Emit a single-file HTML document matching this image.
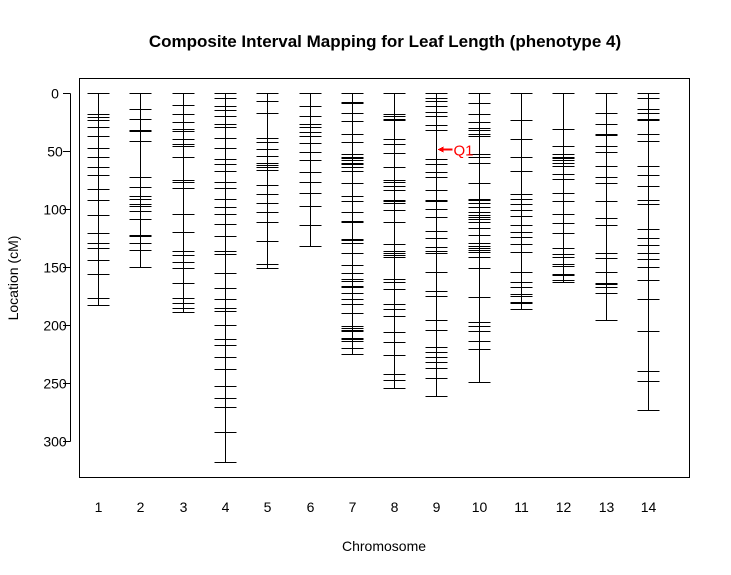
<!DOCTYPE html>
<html><head><meta charset="utf-8"><style>
body{margin:0;background:#fff}
svg{display:block;font-family:"Liberation Sans",Arial,sans-serif}
</style></head><body>
<svg id="chart" width="731" height="575" viewBox="0 0 731 575">
<rect width="731" height="575" fill="#fff"/>
<text x="385" y="47" text-anchor="middle" font-size="17" font-weight="bold">Composite Interval Mapping for Leaf Length (phenotype 4)</text>
<rect x="79.5" y="78.5" width="610" height="399" fill="none" stroke="#000" stroke-width="1"/>
<text x="384" y="551" text-anchor="middle" font-size="14">Chromosome</text>
<text transform="translate(18,278) rotate(-90)" text-anchor="middle" font-size="14">Location (cM)</text>
<g id="marks" shape-rendering="crispEdges"></g>
</svg>
<script>
const chromosomes = ["1","2","3","4","5","6","7","8","9","10","11","12","13","14"];
const yTicks = [0,50,100,150,200,250,300];
const chr1 = [0,18,21,23,29,37,47,55,64,71,83,92,105,121,129,134,144,156,177,183];
const chr2 = [0,14,22,32,33,41,72,81,89,91,96,97,102,109,122,123,129,135,150];
const chr3 = [0,10,18,25,31,33,40,44,46,55,75,77,82,104,120,136,140,146,151,164,177,181,185,189];
const chr4 = [0,4,11,15,20,27,29,39,47,57,61,67,77,82,91,98,104,113,123,136,139,155,168,178,185,188,200,212,217,228,238,253,263,271,292,318];
const chr5 = [0,7,17,39,42,48,54,60,62,64,66,79,87,95,103,111,128,147,151];
const chr6 = [0,11,20,27,29,34,37,43,51,58,68,77,86,97,114,132];
const chr7 = [0,8,9,17,24,35,42,53,55,56,58,60,61,64,67,78,89,93,103,110,111,126,127,129,138,148,155,160,162,166,167,167.5,172,178,182,190,201,203,204,205,211,212,214,220,225];
const chr8 = [0,18,20,22,23,40,44,52,64,75,77,80,84,92,93,95,101,111,130,136,138,140,141,160,163,169,182,186,192,206,215,226,242,247,254];
const chr9 = [0,4,7,11,16,20,28,32,57,61,68,72,84,92,93,100,107,119,125,133,136,138,154,171,175,196,204,219,223,228,232,237,246,261];
const chr10 = [0,9,18,25,30,32,35,37,53,55,60,78,91,92,95,98,103,105,107,109,111,116,122,129,132,134,135,137,141,151,176,197,201,205,214,221,249];
const chr11 = [0,23,40,55,67,87,91,96,101,106,114,120,124,130,137,154,163,167,173,175,180,181,186];
const chr12 = [0,31,46,53,55,56,58,60,63,70,74,86,93,104,112,121,134,139,141,147,149,156,157,161,163];
const chr13 = [0,17,27,35,36,46,51,63,72,78,93,108,114,138,142,154,164,165,167,172,196];
const chr14 = [0,4,14,17,22,23,35,41,63,71,80,92,96,117,125,131,138,143,150,161,178,205,240,248,273];
const markers = [chr1,chr2,chr3,chr4,chr5,chr6,chr7,chr8,chr9,chr10,chr11,chr12,chr13,chr14];
const qtlChrom = [9];
const qtlPos = [48.5];
const qtlLabel = ["Q1"];

const NS="http://www.w3.org/2000/svg";
const g=document.getElementById('marks');
function xS(i){return Math.round(98+(i)*(550/13))+0.5;}
function yS(v){return Math.round(93+v*1.16)+0.5;}
function el(t,a){const e=document.createElementNS(NS,t);for(const k in a)e.setAttribute(k,a[k]);g.appendChild(e);return e;}

const ya=el('line',{x1:70.5,x2:70.5,y1:yS(yTicks[0]),y2:yS(yTicks[yTicks.length-1]),stroke:'#000'});


yTicks.forEach(v=>{
  const t=el('line',{x1:63,x2:70.5,y1:yS(v),y2:yS(v),stroke:'#000'});
  
  
  const l=el('text',{x:55,y:yS(v)+5,'text-anchor':'middle','font-size':14});
  l.textContent=v;
  
  
});
chromosomes.forEach((c,i)=>{
  const l=el('text',{x:xS(i),y:512,'text-anchor':'middle','font-size':14});
  l.textContent=c;
  
  
});
markers.forEach((arr,i)=>{
  const x=xS(i);
  const max=Math.max(...arr);
  const ln=el('line',{x1:x,x2:x,y1:yS(0),y2:yS(max),stroke:'#000','stroke-width':1});
  
  
  arr.forEach(v=>{
    const m=el('line',{x1:x-11,x2:x+11,y1:yS(v),y2:yS(v),stroke:'#000','stroke-width':1});
    
    
  });
});
qtlChrom.forEach((c,k)=>{
  const x=xS(c-1), y=yS(qtlPos[k]);
  const a=el('line',{x1:x+3,x2:x+16,y1:y,y2:y,stroke:'#f00','stroke-width':2});
  
  
  const h=el('polygon',{points:`${x+1},${y} ${x+7},${y-3} ${x+7},${y+3}`,fill:'#f00'});
  
  
  const t=el('text',{x:x+17,y:y+6,'font-size':15,fill:'#f00'});
  t.textContent=qtlLabel[k];
  
  
});
</script>
</body></html>
